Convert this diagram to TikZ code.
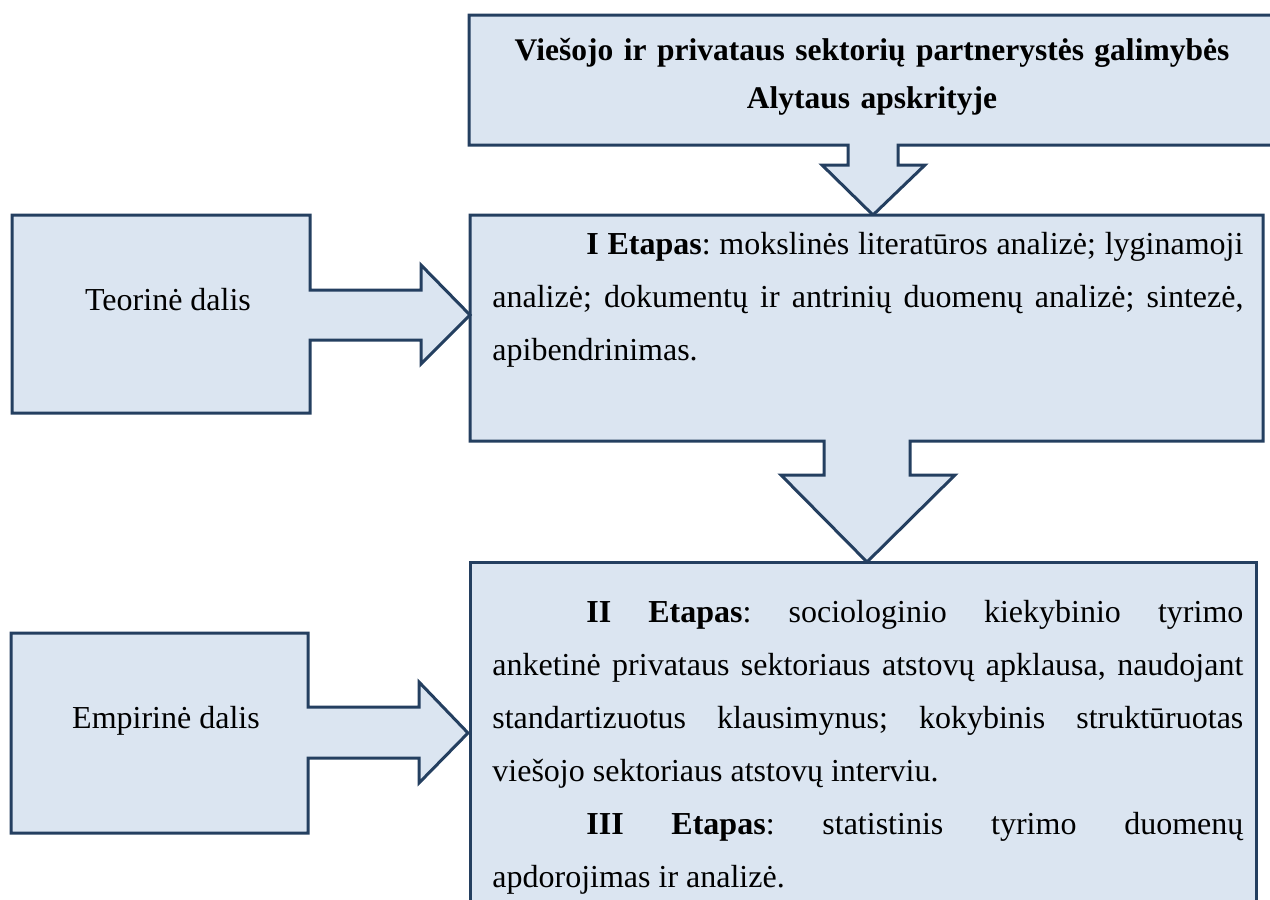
\documentclass[tikz,border=0pt]{standalone}
\usepackage{fontspec}
\setmainfont{Liberation Serif}
\usetikzlibrary{positioning,calc}
\definecolor{boxfill}{HTML}{DBE5F1}
\definecolor{boxline}{HTML}{243F60}
\tikzstyle{callout}=[draw=boxline, fill=boxfill, line width=1.5pt, line join=miter]
\tikzstyle{lbl}=[inner sep=0pt, font=\fontsize{16pt}{26.5pt}\selectfont]
\tikzstyle{para}=[lbl, anchor=north west, text width=375.5pt, align=justify]
\frenchspacing

\begin{document}
\begin{tikzpicture}[x=0.5pt, y=-0.5pt]
        \clip (0,0) rectangle (1270,900);
        % top box, arrow down
        \draw[callout] (469,15) -- (1290,15) -- (1290,145) -- (898,145) -- (898,165) -- (925,165) -- (873,215)
              -- (822,165) -- (848,165) -- (848,145) -- (469,145) -- cycle;
        % middle box, arrow down
        \draw[callout] (470,215) -- (1263,215) -- (1263,441) -- (910,441) -- (910,475) -- (955,475) -- (867,562)
              -- (781,475) -- (824,475) -- (824,441) -- (470,441) -- cycle;
        % bottom box
        \draw[callout] (470,562) rectangle (1256,930);
        % left boxes, arrow right
        \draw[callout] (12,215) -- (310,215) -- (310,290) -- (421,290) -- (421,265) -- (470,315) -- (421,364)
              -- (421,340) -- (310,340) -- (310,413) -- (12,413) -- cycle;
        \draw[callout] (11,633) -- (308,633) -- (308,707) -- (419,707) -- (419,682) -- (468,733) -- (419,783)
              -- (419,758) -- (308,758) -- (308,833) -- (11,833) -- cycle;
        \node[lbl, anchor=base] (teor) at (168,310) {Teorinė dalis};
        \node[lbl, anchor=base] (empir) at (166,728) {Empirinė dalis};
        \node[lbl, anchor=north, text width=780pt, align=center, font=\fontsize{15.75pt}{24pt}\selectfont\bfseries] (title) at (872,38)
              {Viešojo ir privataus sektorių partnerystės galimybės\\Alytaus apskrityje};
        \node[para] (etapas1) at (492,232)
              {\hspace*{47pt}\textbf{I Etapas}: mokslinės literatūros analizė; lyginamoji\linebreak
               analizė; dokumentų ir antrinių duomenų analizė; sintezė,\linebreak apibendrinimas.};
        \node[para] (etapas2) at (492,600)
              {\hspace*{47pt}\textbf{II Etapas}: sociologinio kiekybinio tyrimo\linebreak
               anketinė privataus sektoriaus atstovų apklausa, naudojant\linebreak
               standartizuotus klausimynus; kokybinis struktūruotas\linebreak
               viešojo sektoriaus atstovų interviu.\par
               \hspace*{47pt}\textbf{III Etapas}: statistinis tyrimo duomenų\linebreak
               apdorojimas ir analizė.};
\end{tikzpicture}
\end{document}
